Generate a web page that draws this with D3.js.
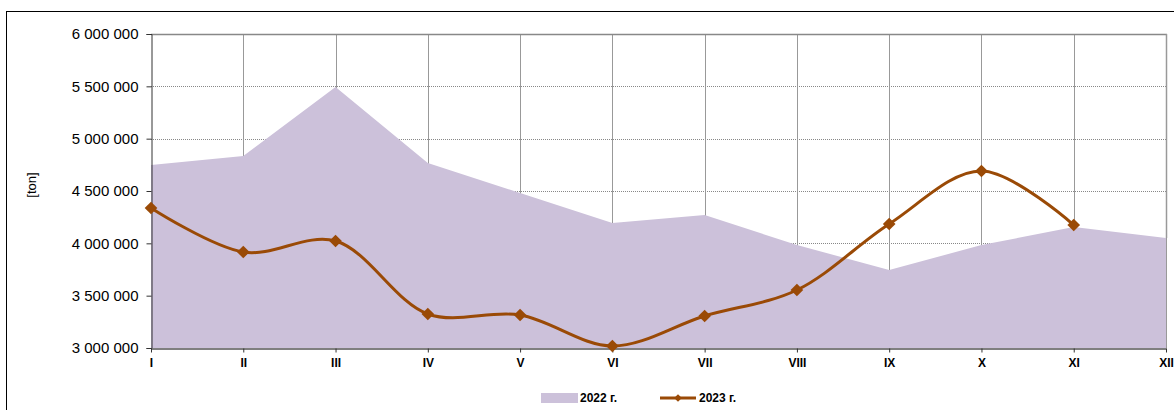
<!DOCTYPE html>
<html>
<head>
<meta charset="utf-8">
<script src="https://cdn.jsdelivr.net/npm/d3@7"></script>
<style>
  body { margin: 0; background: #fff; }
  svg { display: block; font-family: Arial, "Liberation Sans", sans-serif; }
</style>
</head>
<body>
<div id="chart"></div>
<script>
const months = ["I", "II", "III", "IV", "V", "VI", "VII", "VIII", "IX", "X", "XI", "XII"];
const values2022 = [4748000, 4834000, 5494000, 4767000, 4481000, 4194000, 4271000, 3984000, 3745000, 3984000, 4156000, 4051000];
const values2023 = [4338000, 3917000, 4022000, 3325000, 3315000, 3019000, 3306000, 3554000, 4185000, 4691000, 4175000];
const yTicks = [3000000, 3500000, 4000000, 4500000, 5000000, 5500000, 6000000];
const seriesNames = ["2022 г.", "2023 г."];

const width = 1174, height = 410;
const margin = { top: 34, right: 8, bottom: 62, left: 151 };
const areaColor = "#ccc1da", lineColor = "#9a4a06";

const svg = d3.select("#chart").append("svg")
    .attr("width", width)
    .attr("height", height);

// outer frame
svg.append("rect")
    .attr("x", 6.5).attr("y", 11.5)
    .attr("width", width).attr("height", height)
    .attr("fill", "none").attr("stroke", "#000");

const x = d3.scalePoint()
    .domain(months)
    .range([margin.left, width - margin.right]);

const y = d3.scaleLinear()
    .domain([3000000, 6000000])
    .range([height - margin.bottom, margin.top]);

const fmt = v => d3.format(",")(v).replace(/,/g, " ");

// horizontal grid (dotted)
svg.append("g")
    .selectAll("line")
    .data(yTicks.slice(1, -1))
    .join("line")
    .attr("x1", margin.left).attr("x2", width - margin.right)
    .attr("y1", d => Math.round(y(d)) + 0.5).attr("y2", d => Math.round(y(d)) + 0.5)
    .attr("stroke", "#888")
    .attr("stroke-dasharray", "1,1");

// vertical grid
svg.append("g")
    .selectAll("line")
    .data(months.slice(1))
    .join("line")
    .attr("x1", d => Math.round(x(d)) + 0.5).attr("x2", d => Math.round(x(d)) + 0.5)
    .attr("y1", margin.top).attr("y2", height - margin.bottom)
    .attr("stroke", "#999");

// plot top border
svg.append("line")
    .attr("x1", margin.left).attr("x2", width - margin.right + 1)
    .attr("y1", margin.top + 0.5).attr("y2", margin.top + 0.5)
    .attr("stroke", "#888").attr("stroke-width", 1.5);

// 2022 area
const area = d3.area()
    .x((d, i) => x(months[i]))
    .y0(y(3000000))
    .y1(d => y(d));

svg.append("path")
    .datum(values2022)
    .attr("d", area)
    .attr("fill", areaColor);

// right plot border
svg.append("line")
    .attr("x1", width - margin.right + 0.5).attr("x2", width - margin.right + 0.5)
    .attr("y1", margin.top).attr("y2", y(values2022[11]))
    .attr("stroke", "#999").attr("stroke-width", 1.5);

// y axis
const yAxis = svg.append("g")
    .attr("transform", `translate(${margin.left + 0.5},0)`)
    .call(d3.axisLeft(y).tickValues(yTicks).tickFormat(fmt).tickSize(5).tickPadding(8));
yAxis.select(".domain").attr("stroke", "#333");
yAxis.selectAll(".tick line").attr("stroke", "#333");
yAxis.selectAll("text").attr("font-size", 15).attr("fill", "#000")
    .attr("font-family", "Arial, 'Liberation Sans', sans-serif");

// x axis
const xAxis = svg.append("g")
    .attr("transform", `translate(0,${y(3000000) + 0.5})`)
    .call(d3.axisBottom(x).tickSize(4).tickSizeOuter(0).tickPadding(6));
xAxis.select(".domain").attr("stroke", "#555").attr("stroke-width", 1.5);
xAxis.selectAll(".tick line").attr("stroke", "#333");
xAxis.selectAll("text").attr("font-size", 12).attr("font-weight", "bold").attr("fill", "#000")
    .attr("font-family", "Arial, 'Liberation Sans', sans-serif");

// 2023 line
const line = d3.line()
    .x((d, i) => x(months[i]))
    .y(d => y(d))
    .curve(d3.curveCatmullRom.alpha(0.5));

svg.append("path")
    .datum(values2023)
    .attr("d", line)
    .attr("fill", "none")
    .attr("stroke", lineColor)
    .attr("stroke-width", 3);

svg.append("g")
    .selectAll("path")
    .data(values2023)
    .join("path")
    .attr("d", d3.symbol().type(d3.symbolSquare).size(80))
    .attr("transform", (d, i) => `translate(${x(months[i])},${y(d)}) rotate(45)`)
    .attr("fill", lineColor);

// y label
svg.append("text")
    .attr("transform", "translate(36,185) rotate(-90)")
    .attr("text-anchor", "middle")
    .attr("font-size", 13)
    .text("[ton]");

// legend
const legend = svg.append("g").attr("font-size", 12).attr("font-weight", "bold");
legend.append("rect")
    .attr("x", 541).attr("y", 393).attr("width", 37).attr("height", 10)
    .attr("fill", areaColor);
legend.append("text").attr("x", 580).attr("y", 402).text(seriesNames[0]);
legend.append("line")
    .attr("x1", 660).attr("x2", 696).attr("y1", 398).attr("y2", 398)
    .attr("stroke", lineColor).attr("stroke-width", 3);
legend.append("path")
    .attr("d", d3.symbol().type(d3.symbolSquare).size(30))
    .attr("transform", "translate(678,398) rotate(45)")
    .attr("fill", lineColor);
legend.append("text").attr("x", 699).attr("y", 402).text(seriesNames[1]);
</script>
</body>
</html>
